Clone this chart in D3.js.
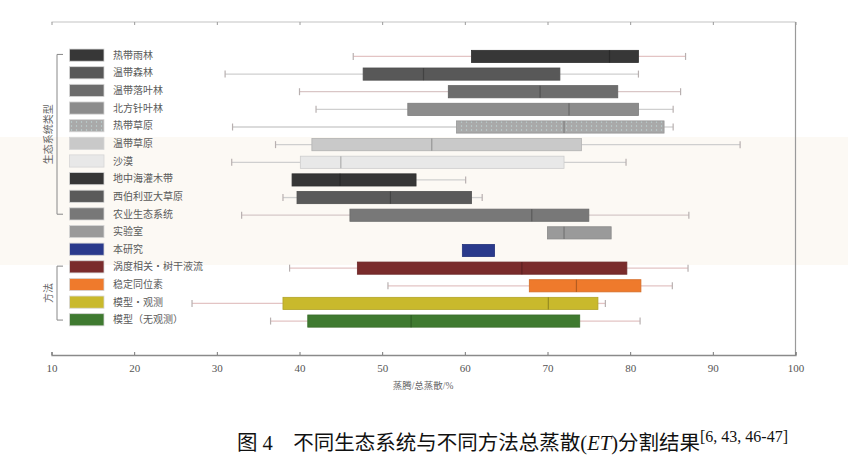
<!DOCTYPE html>
<html><head><meta charset="utf-8">
<script src="https://cdn.jsdelivr.net/npm/d3@7"></script>
<style>
html,body{margin:0;padding:0;background:#fff;}
svg{display:block;}
</style></head>
<body>
<svg id="chart" width="848" height="466"></svg>
<script>
const categories = ["热带雨林","温带森林","温带落叶林","北方针叶林","热带草原","温带草原","沙漠","地中海灌木带","西伯利亚大草原","农业生态系统","实验室","本研究","涡度相关·树干液流","稳定同位素","模型·观测","模型（无观测）"];
const whiskerLow  = [46.5, 31.0, 40.0, 42.0, 31.9, 37.1, 31.8, null, 38.0, 33.0, null, null, 38.8, 50.7, 27.0, 36.5];
const q1          = [60.8, 47.7, 58.0, 53.1, 59.0, 41.5, 40.1, 39.1, 39.7, 46.1, 70.0, 59.7, 47.0, 67.8, 38.0, 41.0];
const medians     = [77.5, 55.0, 69.1, 72.6, 72.0, 56.0, 45.0, 44.9, 51.0, 68.1, 72.0, null, 66.9, 73.5, 70.1, 53.5];
const q3          = [81.0, 71.5, 78.5, 81.0, 84.1, 74.1, 72.0, 54.1, 60.8, 75.0, 77.7, 63.6, 79.6, 81.3, 76.1, 73.9];
const whiskerHigh = [86.7, 81.0, 86.1, 85.2, 85.2, 93.3, 79.5, 60.1, 62.1, 87.1, null, null, 87.0, 85.1, 77.0, 81.2];
const colors = ["#373737","#585858","#6d6d6d","#8c8c8c","#a9a9a9","#c9c9c9","#e8e8e8","#363636","#5a5a5a","#787878","#9a9a9a","#2a3a8c","#7a2c2c","#ef7a2c","#c9b92c","#3f7a30"];
const whiskerColors = ["#e3c4c4","#cfcfcf","#d9c6c6","#cfcfcf","#cfcfcf","#cfcfcf","#cfcfcf","#cfcfcf","#cfcfcf","#d6c8c8","#cfcfcf","#cfcfcf","#e3c4c4","#e3c4c4","#e3c4c4","#e3c4c4"];
const xTicks = [10,20,30,40,50,60,70,80,90,100];
const groups = [
  {label:"生态系统类型", from:"热带雨林", to:"农业生态系统"},
  {label:"方法", from:"涡度相关·树干液流", to:"模型（无观测）"}
];
const xTitle = "蒸腾/总蒸散/%";
const caption = "图 4    不同生态系统与不同方法总蒸散(";
const captionEnd = "分割结果";
const captionRef = "[6, 43, 46-47]";

const svg = d3.select("#chart");
const W = 848, H = 466;

// scanning tint band
svg.append("rect").attr("x",0).attr("y",137).attr("width",W).attr("height",128).attr("fill","#fcf9f4");

const x = d3.scaleLinear().domain([10,100]).range([51.5,795.5]);
const y = d3.scaleBand().domain(categories).range([47.7,329.8]).paddingInner(0.31).paddingOuter(0.15);

const defs = svg.append("defs");
const pat = defs.append("pattern").attr("id","dots").attr("width",5).attr("height",4).attr("patternUnits","userSpaceOnUse");
pat.append("rect").attr("width",5).attr("height",4).attr("fill",colors[4]);
pat.append("circle").attr("cx",1.5).attr("cy",2).attr("r",0.7).attr("fill","#bfd6d6");

const axisY = 355, topY = 22;
// frame
const frame = svg.append("g");
frame.append("line").attr("x1",x(10)).attr("x2",x(100)).attr("y1",topY).attr("y2",topY).attr("stroke","#c4c4c4").attr("stroke-width",1.2);
frame.append("line").attr("x1",x(100)).attr("x2",x(100)).attr("y1",topY).attr("y2",axisY).attr("stroke","#9a9a9a").attr("stroke-width",1.2);

// bottom axis
const xAxis = d3.axisBottom(x).tickValues(xTicks).tickSize(-3).tickPadding(9).tickFormat(d3.format("d"));
const gx = svg.append("g").attr("transform",`translate(0,${axisY})`).call(xAxis);
gx.select(".domain").attr("stroke","#8a8a8a").attr("stroke-width",1.3);
gx.selectAll(".tick line").attr("stroke","#777");
gx.selectAll(".tick text").attr("font-family","Liberation Serif, serif").attr("font-size",11).attr("fill","#555");
// top ticks
const xAxisTop = d3.axisTop(x).tickValues(xTicks).tickSize(-3).tickFormat("");
const gt = svg.append("g").attr("transform",`translate(0,${topY})`).call(xAxisTop);
gt.select(".domain").remove();
gt.selectAll(".tick line").attr("stroke","#9a9a9a");

svg.append("text").attr("x",423).attr("y",389).attr("text-anchor","middle")
  .attr("font-family","Liberation Serif, 'Noto Sans CJK SC', serif").attr("font-size",9.5).attr("fill","#666").text(xTitle);

const bh = y.bandwidth();
const rows = svg.append("g");
categories.forEach((c,i)=>{
  const cy = y(c) + bh/2;
  const g = rows.append("g");
  const wc = whiskerColors[i];
  if (whiskerLow[i] !== null) {
    g.append("line").attr("x1",x(whiskerLow[i])).attr("x2",x(q1[i])).attr("y1",cy).attr("y2",cy).attr("stroke",wc).attr("stroke-width",1.3);
    g.append("line").attr("x1",x(whiskerLow[i])).attr("x2",x(whiskerLow[i])).attr("y1",cy-3.5).attr("y2",cy+3.5).attr("stroke","#b8b0b0").attr("stroke-width",1.2);
  }
  if (whiskerHigh[i] !== null) {
    g.append("line").attr("x1",x(q3[i])).attr("x2",x(whiskerHigh[i])).attr("y1",cy).attr("y2",cy).attr("stroke",wc).attr("stroke-width",1.3);
    g.append("line").attr("x1",x(whiskerHigh[i])).attr("x2",x(whiskerHigh[i])).attr("y1",cy-3.5).attr("y2",cy+3.5).attr("stroke","#b8b0b0").attr("stroke-width",1.2);
  }
  const fill = i===4 ? "url(#dots)" : colors[i];
  g.append("rect").attr("x",x(q1[i])).attr("y",y(c)).attr("width",x(q3[i])-x(q1[i])).attr("height",bh)
    .attr("fill",fill).attr("stroke",d3.color(colors[i]).darker(0.35)).attr("stroke-width",0.8);
  if (medians[i] !== null) {
    g.append("line").attr("x1",x(medians[i])).attr("x2",x(medians[i])).attr("y1",y(c)).attr("y2",y(c)+bh)
      .attr("stroke",d3.color(colors[i]).darker(0.8)).attr("stroke-width",1.2);
  }
});

// legend
const leg = svg.append("g");
categories.forEach((c,i)=>{
  const top = y(c) - 1.3;
  leg.append("rect").attr("x",69.5).attr("y",top).attr("width",34.5).attr("height",bh)
    .attr("fill", i===4 ? "url(#dots)" : colors[i]).attr("stroke","#d6d6d6").attr("stroke-width",0.8);
  leg.append("text").attr("x",113).attr("y",top+bh/2).attr("dy","0.36em")
    .attr("font-family","'Noto Sans CJK SC', sans-serif").attr("font-size",10).attr("fill","#5a5a5a").text(c);
});

// group brackets
groups.forEach(gr=>{
  const y1 = y(gr.from) + bh/2 - 2, y2 = y(gr.to) + bh/2 - 1;
  const bx = 57;
  svg.append("path").attr("d",`M${bx+6},${y1}H${bx}V${y2}H${bx+6}`).attr("fill","none").attr("stroke","#888").attr("stroke-width",1);
  const my = (y1+y2)/2;
  svg.append("text").attr("transform",`translate(48,${my}) rotate(-90)`).attr("text-anchor","middle").attr("dy","0.35em")
    .attr("font-family","'Noto Sans CJK SC', sans-serif").attr("font-size",10).attr("fill","#666").text(gr.label);
});

// caption
const cap = svg.append("text").attr("x",237).attr("y",450).attr("xml:space","preserve")
  .attr("font-family","'Liberation Serif', 'Noto Sans CJK SC', serif").attr("font-size",20.5).attr("fill","#111");
cap.append("tspan").text(caption);
cap.append("tspan").attr("font-style","italic").text("ET");
cap.append("tspan").text(")" + captionEnd);
cap.append("tspan").attr("dy",-8).attr("font-size",16).text(captionRef);
</script>
</body></html>
